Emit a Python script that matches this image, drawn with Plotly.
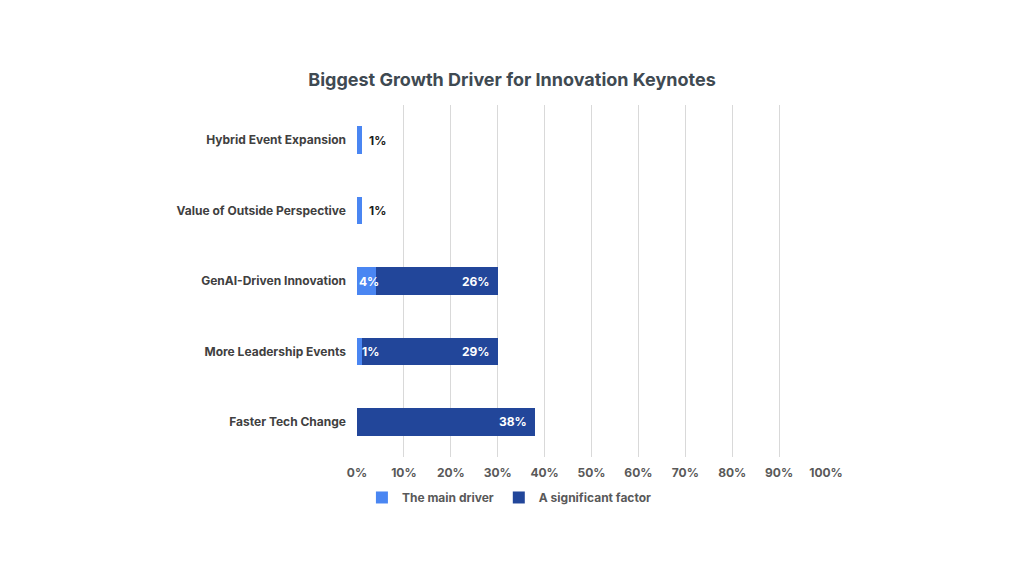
import plotly.graph_objects as go

categories = ["Hybrid Event Expansion", "Value of Outside Perspective", "GenAI-Driven Innovation",
              "More Leadership Events", "Faster Tech Change"]
main_driver = [1, 1, 4, 1, 0]
significant = [0, 0, 26, 29, 38]
tick_vals = [0, 10, 20, 30, 40, 50, 60, 70, 80, 90, 100]
tick_text = ["0%", "10%", "20%", "30%", "40%", "50%", "60%", "70%", "80%", "90%", "100%"]

LIGHT = "#4a86f2"
DARK = "#22469a"
FONT = "Inter"

fig = go.Figure()
fig.add_trace(go.Bar(y=categories, x=main_driver, orientation="h", name="<b>The main driver</b>",
                     marker=dict(color=LIGHT, line=dict(width=0))))
fig.add_trace(go.Bar(y=categories, x=significant, orientation="h", name="<b>A significant factor</b>",
                     marker=dict(color=DARK, line=dict(width=0))))

annotations = []
for cat, m, s in zip(categories, main_driver, significant):
    if m > 0:
        if s > 0:
            annotations.append(dict(x=0, y=cat, xref="x", yref="y", text=f"<b>{m}%</b>",
                                    showarrow=False, xanchor="left", xshift=0 if m >= 3 else 3,
                                    font=dict(family=FONT, size=12, color="white")))
        else:
            annotations.append(dict(x=m, y=cat, xref="x", yref="y", text=f"<b>{m}%</b>",
                                    showarrow=False, xanchor="left", xshift=5,
                                    font=dict(family=FONT, size=12, color="#1a1a1a")))
    if s > 0:
        annotations.append(dict(x=m + s, y=cat, xref="x", yref="y", text=f"<b>{s}%</b>",
                                showarrow=False, xanchor="right", xshift=-6,
                                font=dict(family=FONT, size=12, color="white")))

fig.update_layout(
    barmode="stack",
    bargap=0.61,
    width=1024, height=576,
    paper_bgcolor="white", plot_bgcolor="white",
    margin=dict(l=357, r=198, t=105, b=119),
    title=dict(text="<b>Biggest Growth Driver for Innovation Keynotes</b>", x=0.5, xanchor="center",
               y=0.861, yanchor="middle", xref="container",
               font=dict(family=FONT, size=18, color="#3f4a52")),
    font=dict(family=FONT, size=12, color="#595959"),
    xaxis=dict(range=[0, 100], tickvals=tick_vals, ticktext=[f"<b>{t}</b>" for t in tick_text],
               showgrid=True, gridcolor="#d9d9d9", gridwidth=1, zeroline=False, showline=False,
               ticks="", ticklabelstandoff=7,
               tickfont=dict(family=FONT, size=12, color="#595959"), fixedrange=True),
    yaxis=dict(categoryorder="array", categoryarray=categories[::-1],
               ticktext=[f"<b>{c}</b>" for c in categories[::-1]], tickvals=categories[::-1],
               showgrid=False, zeroline=False, showline=False, ticks="", ticklabelstandoff=10,
               tickfont=dict(family=FONT, size=12, color="#404040")),
    legend=dict(orientation="h", x=0.325, xanchor="center", y=-0.115, yanchor="middle",
                font=dict(family=FONT, size=12, color="#595959"), itemwidth=30,
                traceorder="normal"),
    annotations=annotations,
    showlegend=True,
)

fig.write_html("out.html")
